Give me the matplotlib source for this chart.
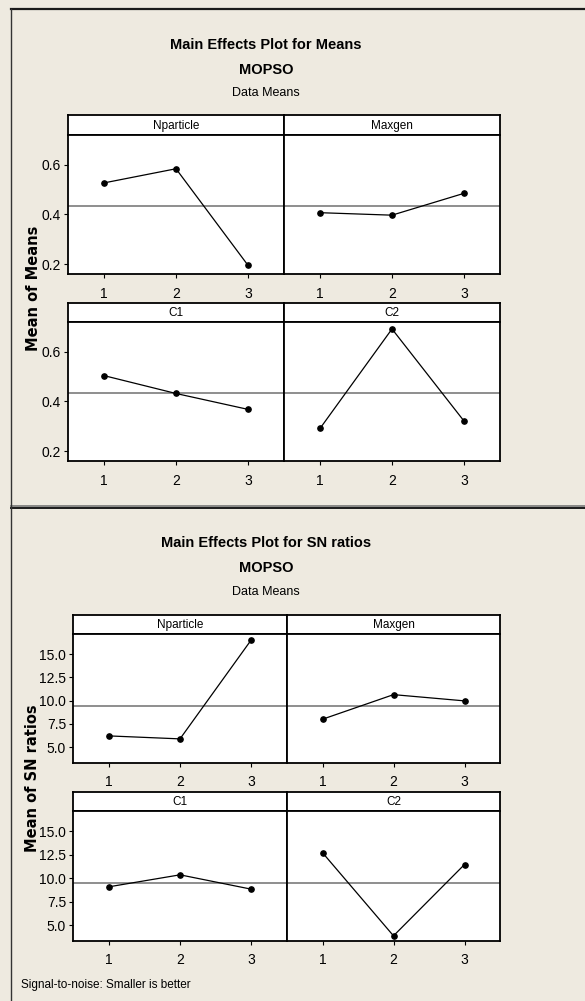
import matplotlib
matplotlib.use("Agg")
import matplotlib.pyplot as plt
from matplotlib.lines import Line2D
from matplotlib import font_manager

# ---------------- data ----------------
levels = [1, 2, 3]
factors = ["Nparticle", "Maxgen", "C1", "C2"]

means_nparticle = [0.527, 0.584, 0.195]
means_maxgen = [0.407, 0.397, 0.485]
means_c1 = [0.504, 0.432, 0.368]
means_c2 = [0.291, 0.692, 0.321]
means_grand = 0.433
means_yticks = [0.2, 0.4, 0.6]

sn_nparticle = [6.21, 5.89, 16.53]
sn_maxgen = [8.00, 10.64, 9.97]
sn_c1 = [9.07, 10.35, 8.82]
sn_c2 = [12.71, 3.85, 11.45]
sn_grand = 9.46
sn_yticks = [5.0, 7.5, 10.0, 12.5, 15.0]

# ---------------- style ----------------
names = {f.name for f in font_manager.fontManager.ttflist}
NARROW = "Liberation Sans Narrow" if "Liberation Sans Narrow" in names else "Liberation Sans"
FAM = [NARROW, "DejaVu Sans"]
BG = "#EEEAE0"
W, H = 585, 1001
fig = plt.figure(figsize=(W / 100, H / 100), dpi=100)
fig.patch.set_facecolor(BG)


def box(l, t, r, b):
    return [l / W, 1 - b / H, (r - l) / W, (b - t) / H]


def hline(y, x0, x1, color, lw):
    fig.add_artist(Line2D([x0 / W, x1 / W], [1 - y / H, 1 - y / H], color=color, lw=lw,
                          transform=fig.transFigure))


def vline(x, y0, y1, color, lw):
    fig.add_artist(Line2D([x / W, x / W], [1 - y0 / H, 1 - y1 / H], color=color, lw=lw,
                          transform=fig.transFigure))


# frame lines
hline(8.5, 11, W, "#1a1a1a", 1.6)
hline(505.5, 11, W, "#777777", 1.2)
hline(507.5, 11, W, "#1a1a1a", 1.4)
vline(11, 8.5, H, "#333333", 1.0)


def draw_block(title, yt, xl, xm, xr, rows, series, grand, yticks, ylim, fmt, ylabel):
    t_title, t_sub, t_dm = yt
    cx = 266
    fig.text(cx / W, 1 - t_title / H, title, ha="center", va="center",
             fontsize=10.5, fontweight="bold", family=FAM)
    fig.text(cx / W, 1 - t_sub / H, "MOPSO", ha="center", va="center",
             fontsize=10.5, fontweight="bold", family=FAM)
    fig.text(cx / W, 1 - t_dm / H, "Data Means", ha="center", va="center",
             fontsize=9, family=FAM)
    k = 0
    for (st, sb, pb) in rows:
        for (l, r) in [(xl, xm), (xm, xr)]:
            name = factors[k]
            vals = series[k]
            # strip
            sax = fig.add_axes(box(l, st, r, sb))
            sax.set_facecolor("white")
            sax.set_xticks([]); sax.set_yticks([])
            for s in sax.spines.values():
                s.set_linewidth(1.3); s.set_color("black")
            sax.text(0.5, 0.45, name, ha="center", va="center", fontsize=8.5,
                     family=FAM, transform=sax.transAxes)
            # plot
            ax = fig.add_axes(box(l, sb, r, pb))
            ax.set_facecolor("white")
            ax.axhline(grand, color="#707070", lw=1.1, zorder=1)
            ax.plot(levels, vals, color="black", lw=0.9, marker="o", ms=3.8, zorder=3)
            ax.set_xlim(0.5, 3.5)
            ax.set_ylim(*ylim)
            ax.set_xticks(levels)
            ax.set_xticklabels([str(v) for v in levels])
            ax.set_yticks(yticks)
            ax.tick_params(direction="out", length=3, width=0.8, labelsize=10, pad=6)
            for lab in ax.get_xticklabels() + ax.get_yticklabels():
                lab.set_family(FAM)
            if l == xl:
                ax.set_yticklabels([fmt % v for v in yticks])
                ax.tick_params(axis="y", pad=2)
            else:
                ax.tick_params(axis="y", left=False, labelleft=False)
            for s in ax.spines.values():
                s.set_linewidth(1.3); s.set_color("black")
            k += 1
    top = rows[0][0]
    bot = rows[-1][2]
    fig.text(33 / W, 1 - ((top + bot) / 2) / H, ylabel, rotation=90, ha="center",
             va="center", fontsize=10.5, fontweight="bold", family="DejaVu Sans")


draw_block("Main Effects Plot for Means", (45, 70, 93), 68, 284, 500,
           [(115, 135, 274), (303, 322, 461)],
           [means_nparticle, means_maxgen, means_c1, means_c2], means_grand,
           means_yticks, (0.16, 0.72), "%.1f", "Mean of Means")

draw_block("Main Effects Plot for SN ratios", (543, 568, 592), 73, 287, 500,
           [(615, 634, 763), (792, 811, 941)],
           [sn_nparticle, sn_maxgen, sn_c1, sn_c2], sn_grand,
           sn_yticks, (3.3, 17.15), "%.1f", "Mean of SN ratios")

fig.text(21 / W, 1 - 985 / H, "Signal-to-noise: Smaller is better", ha="left", va="center",
         fontsize=8.5, family=FAM)

fig.savefig("out.png", dpi=100, facecolor=BG)
